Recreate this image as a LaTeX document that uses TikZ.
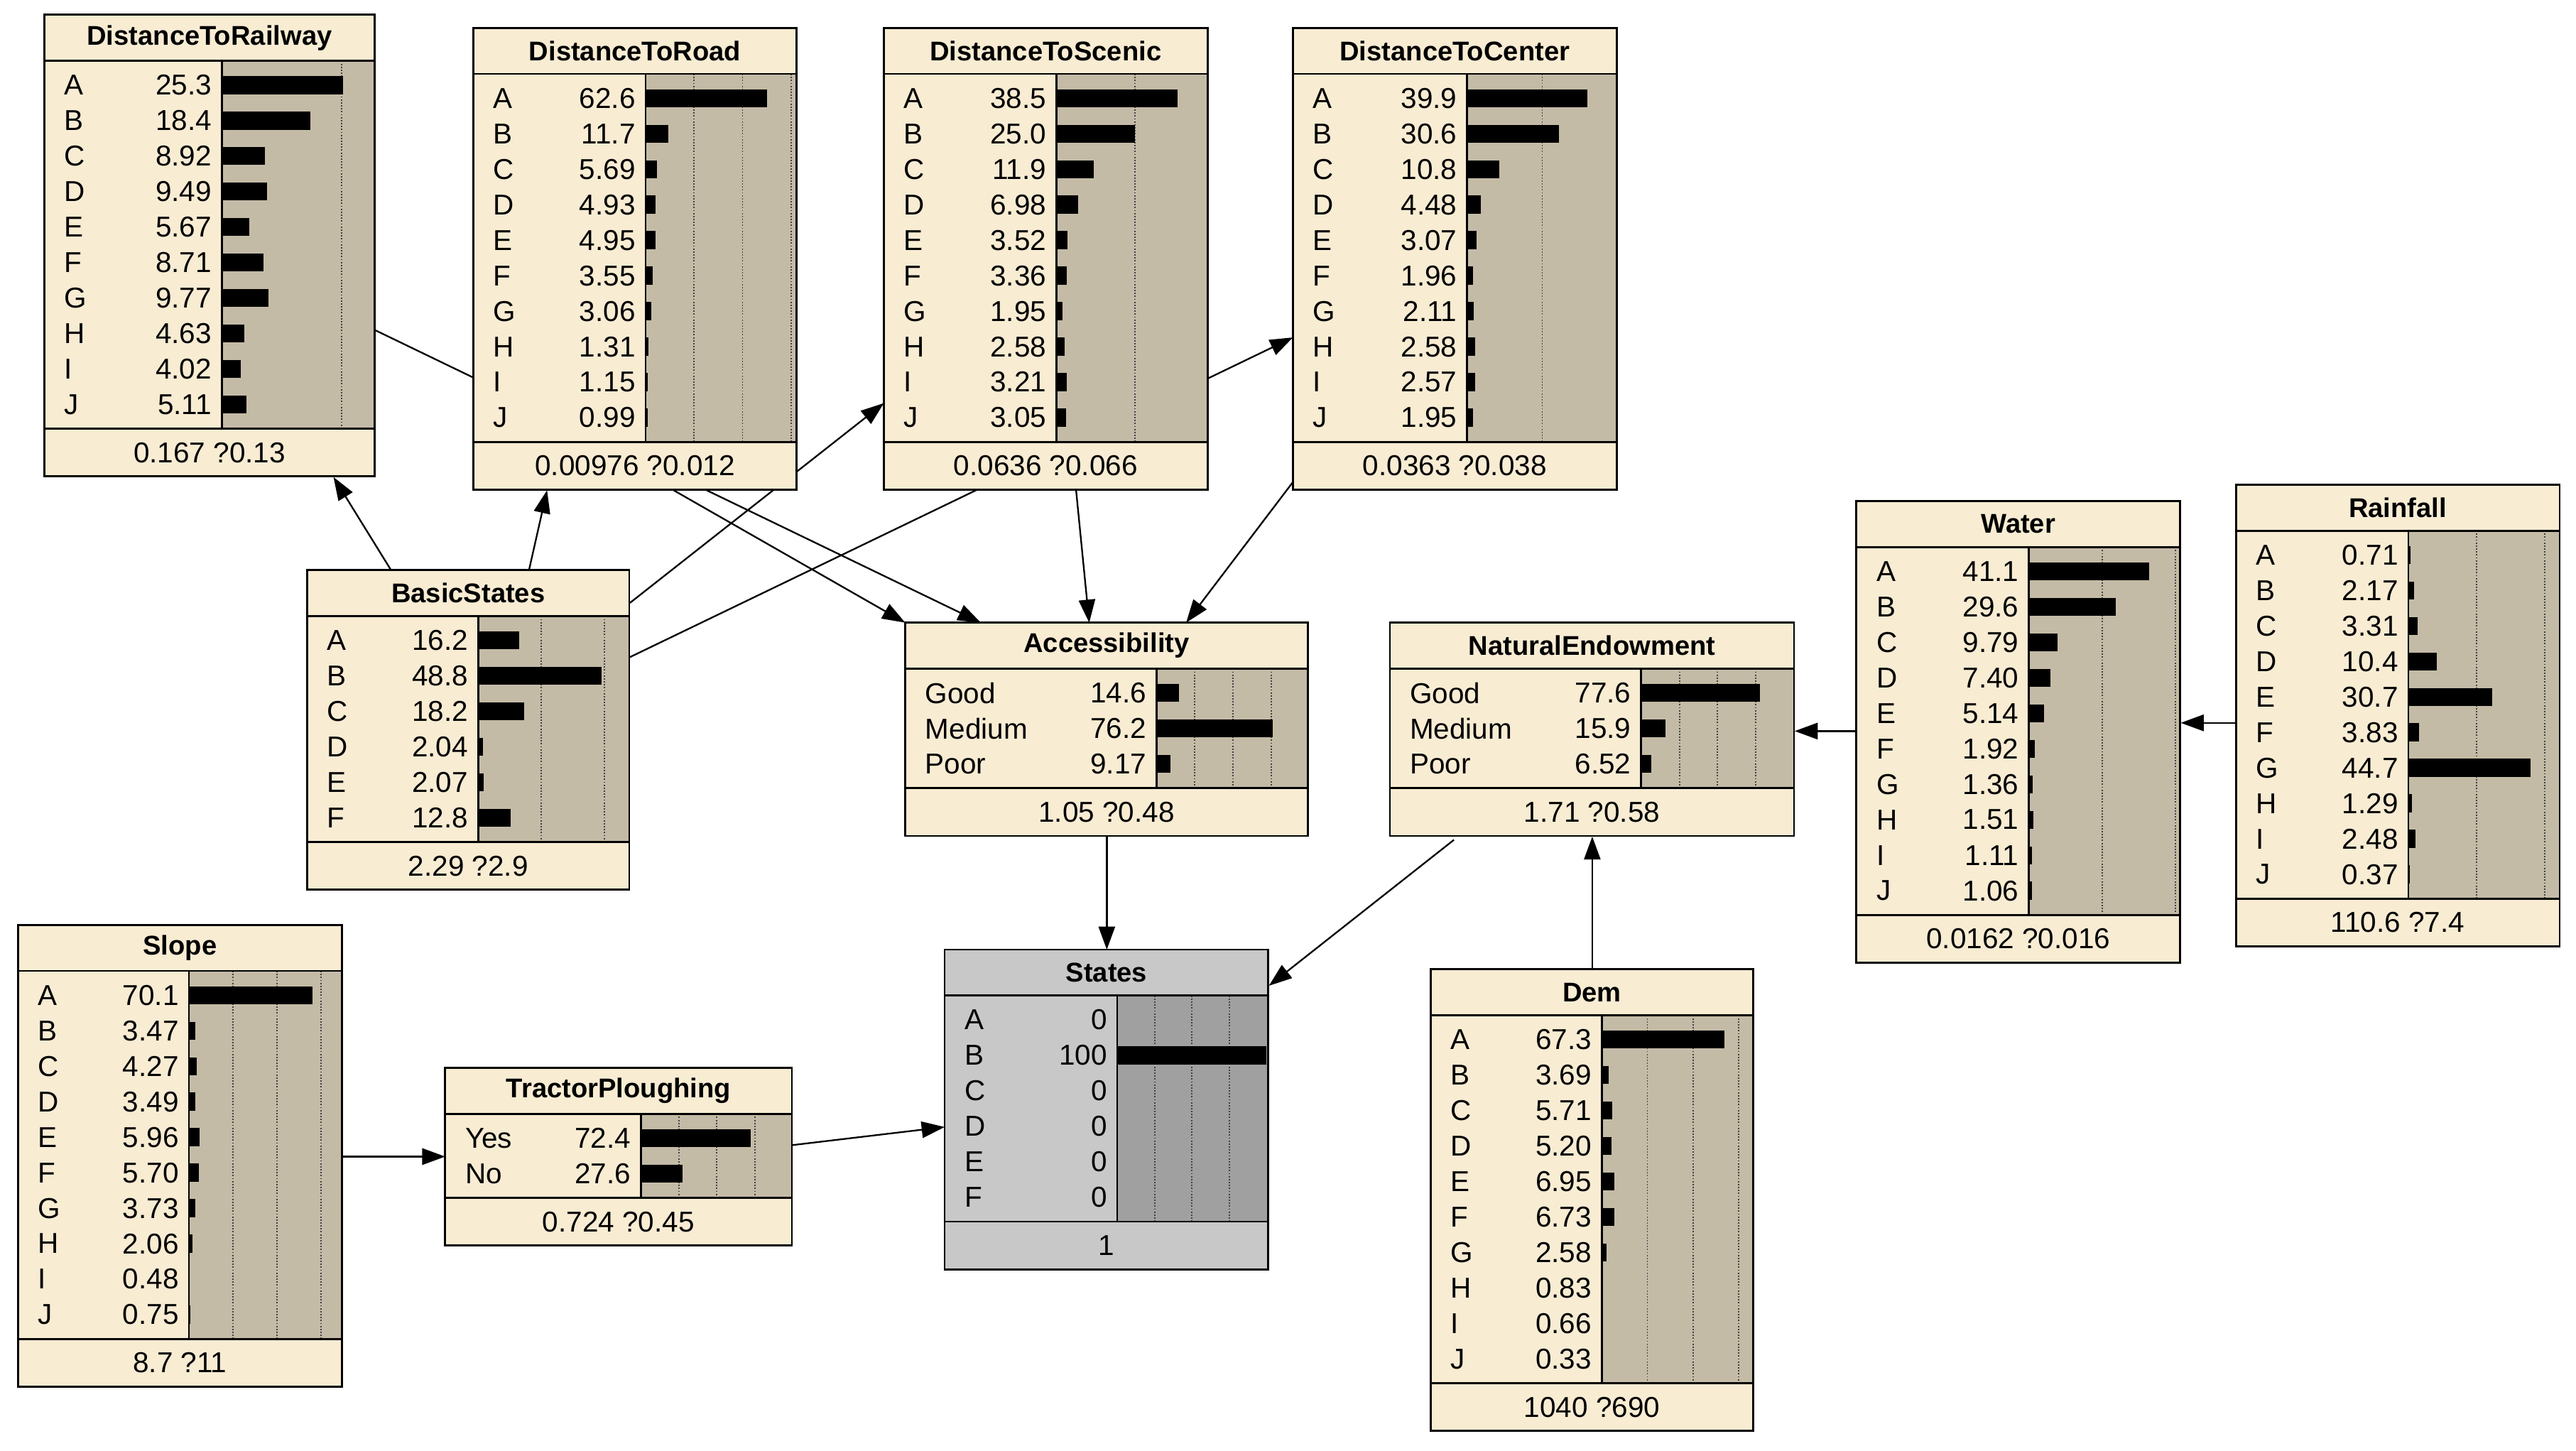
\documentclass[tikz,border=0pt]{standalone}
\usepackage{fontspec}
\setmainfont{Liberation Sans}
\usetikzlibrary{calc,arrows.meta}
\pgfdeclarelayer{bg}\pgfsetlayers{bg,main}
\definecolor{cream}{HTML}{F8ECD3}
\definecolor{barc}{HTML}{C4BBA7}
\definecolor{gtxt}{HTML}{C8C8C8}
\definecolor{gbar}{HTML}{A0A0A0}
\tikzset{
  rowtxt/.style={inner sep=0,font=\fontsize{17.5}{19}\selectfont},
  ttl/.style={inner sep=0,font=\fontsize{16.5}{19}\selectfont\bfseries},
  grid/.style={black!75,line width=0.8pt,densely dotted},
  box/.style={line width=1.2pt},
  arr/.style={line width=1pt,-{Triangle[length=14pt,width=10pt]}}
}
\def\bgc{cream}\def\brc{barc}
\newcommand\nn[9]{%
\pgfmathsetmacro\X{#2}\pgfmathsetmacro\Y{#3}\pgfmathsetmacro\W{#4}%
\gdef\cnt{0}\foreach \a/\b in {#9}{\pgfmathtruncatemacro\t{\cnt+1}\xdef\cnt{\t}}%
\pgfmathsetmacro\H{\cnt*21.6+8}%
\pgfmathsetmacro\T{28+\H+29}%
\fill[\bgc] (\X,\Y) rectangle ++(\W,\T);
\fill[\brc] (\X+#5,\Y+28) rectangle ++(\W-#5,\H);
\foreach \k in {1,2,3}{\pgfmathsetmacro\gx{#5+\k*25*#6}\ifdim\gx pt<\dimexpr\W pt-3pt\relax \draw[grid] (\X+\gx,\Y+28) -- ++(0,\H);\fi}
\foreach[count=\i] \a/\b in {#9}{\pgfmathsetmacro\cy{\Y+28+4+(\i-0.5)*21.6}
  \node[anchor=west,rowtxt] at (\X+12,\cy) {\a};
  \node[anchor=east,rowtxt] at (\X+#5-6,\cy) {\b};
  \fill (\X+#5,\cy-5.5) rectangle ++(\b*#6,11);}
\node[ttl] at (\X+\W/2,\Y+14) {#7};
\node[rowtxt] at (\X+\W/2,\Y+28+\H+14.5) {#8};
\draw[box] (\X,\Y) rectangle ++(\W,\T);
\draw[box] (\X,\Y+28)--++(\W,0);
\draw[box] (\X,\Y+28+\H)--++(\W,0);
\draw[box] (\X+#5,\Y+28)--++(0,\H);
\node[inner sep=0,minimum width=\W pt,minimum height=\T pt,anchor=north west] (#1) at (\X,\Y) {};
}
\begin{document}
\begin{tikzpicture}[x=1pt,y=-1pt]
\useasboundingbox (0,0) rectangle (1568,883);
\nn{rail}{27}{9}{201}{108}{2.92}{DistanceToRailway}{0.167 ?0.13}{A/25.3,B/18.4,C/8.92,D/9.49,E/5.67,F/8.71,G/9.77,H/4.63,I/4.02,J/5.11}
\nn{road}{288}{17}{197}{105}{1.18}{DistanceToRoad}{0.00976 ?0.012}{A/62.6,B/11.7,C/5.69,D/4.93,E/4.95,F/3.55,G/3.06,H/1.31,I/1.15,J/0.99}
\nn{scenic}{538}{17}{197}{105}{1.92}{DistanceToScenic}{0.0636 ?0.066}{A/38.5,B/25.0,C/11.9,D/6.98,E/3.52,F/3.36,G/1.95,H/2.58,I/3.21,J/3.05}
\nn{center}{787}{17}{197}{106}{1.83}{DistanceToCenter}{0.0363 ?0.038}{A/39.9,B/30.6,C/10.8,D/4.48,E/3.07,F/1.96,G/2.11,H/2.58,I/2.57,J/1.95}
\nn{water}{1130}{305}{197}{105}{1.78}{Water}{0.0162 ?0.016}{A/41.1,B/29.6,C/9.79,D/7.40,E/5.14,F/1.92,G/1.36,H/1.51,I/1.11,J/1.06}
\nn{rain}{1361}{295}{197}{105}{1.66}{Rainfall}{110.6 ?7.4}{A/0.71,B/2.17,C/3.31,D/10.4,E/30.7,F/3.83,G/44.7,H/1.29,I/2.48,J/0.37}
\nn{bs}{187}{347}{196}{104}{1.54}{BasicStates}{2.29 ?2.9}{A/16.2,B/48.8,C/18.2,D/2.04,E/2.07,F/12.8}
\nn{acc}{551}{379}{245}{153}{0.93}{Accessibility}{1.05 ?0.48}{Good/14.6,Medium/76.2,Poor/9.17}
\nn{ne}{846}{379}{246}{153}{0.93}{NaturalEndowment}{1.71 ?0.58}{Good/77.6,Medium/15.9,Poor/6.52}
\nn{slope}{11}{563}{197}{104}{1.07}{Slope}{8.7 ?11}{A/70.1,B/3.47,C/4.27,D/3.49,E/5.96,F/5.70,G/3.73,H/2.06,I/0.48,J/0.75}
\nn{tractor}{271}{650}{211}{119}{0.925}{TractorPloughing}{0.724 ?0.45}{Yes/72.4,No/27.6}
\nn{dem}{871}{590}{196}{104}{1.11}{Dem}{1040 ?690}{A/67.3,B/3.69,C/5.71,D/5.20,E/6.95,F/6.73,G/2.58,H/0.83,I/0.66,J/0.33}
\def\bgc{gtxt}\def\brc{gbar}
\nn{states}{575}{578}{197}{105}{0.91}{States}{1}{A/0,B/100,C/0,D/0,E/0,F/0}
\begin{pgfonlayer}{bg}
\fill[white] (0,0) rectangle (1568,883);
\draw[arr] ($(bs.north west)+(51,0)$) -- ($(rail.south west)+(176,0)$);
\draw[arr] ($(bs.north west)+(135,0)$) -- ($(road.south west)+(45,0)$);
\draw[arr] ($(bs.north east)+(0,20)$) -- ($(scenic.south west)+(0,-53)$);
\draw[arr] ($(bs.north east)+(0,53)$) -- ($(center.south west)+(0,-93)$);
\draw[arr] ($(rail.north east)+(0,192)$) -- ($(acc.north west)+(46,0)$);
\draw[arr] ($(road.south west)+(122,0)$) -- (acc.north west);
\draw[arr] ($(scenic.south west)+(117,0)$) -- ($(acc.north west)+(112,0)$);
\draw[arr] ($(center.south west)+(0,-5)$) -- ($(acc.north west)+(171,0)$);
\draw[arr] (acc.south) -- (states.north);
\draw[arr] ($(ne.south west)+(39,2)$) -- ($(states.north east)+(0,22)$);
\draw[arr] (dem.north) -- (ne.south);
\draw[arr] ($(water.north west)+(0,140)$) -- ($(ne.north east)+(0,66)$);
\draw[arr] ($(rain.north west)+(0,145)$) -- ($(water.north east)+(0,135)$);
\draw[arr] ($(slope.north east)+(0,141)$) -- ($(tractor.north west)+(0,54)$);
\draw[arr] ($(tractor.north east)+(0,47)$) -- ($(states.north west)+(0,108)$);
\end{pgfonlayer}
\end{tikzpicture}
\end{document}
